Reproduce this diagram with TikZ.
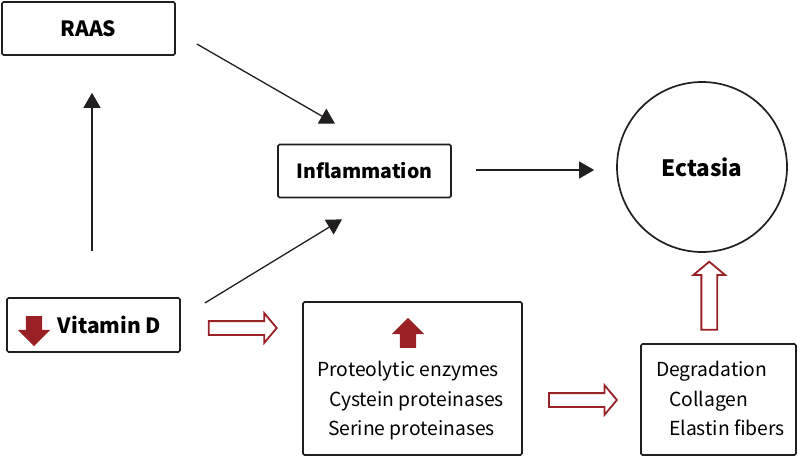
\documentclass[tikz,border=0pt]{standalone}
\usepackage{fontspec}
\setmainfont{Noto Sans CJK KR}
\usepackage{tikz}
\usetikzlibrary{
  arrows.meta,
  positioning,
  shapes.arrows,
  calc
}
\usepackage{xcolor}
\definecolor{darkRed}{rgb}{0.6015625,0.12890625,0.14453125}
\definecolor{boxLine}{rgb}{0.13,0.12,0.12}
\tikzset{
  textbox/.style={
    draw=boxLine,
    line width=1.7pt,
    rounded corners=1.5pt,
    minimum height=53pt,
    minimum width=173pt,
    inner sep=0pt,
    font=\fontsize{19.5}{23}\selectfont\bfseries
  },
  listbox/.style={
    draw=boxLine,
    line width=1.7pt,
    rounded corners=1.5pt,
    inner sep=0pt
  },
  listtext/.style={
    align=left,
    anchor=north west,
    inner sep=0pt,
    font=\fontsize{19.3}{29.5}\selectfont
  },
  hollow/.style={
    single arrow,
    draw=darkRed,
    line width=1.8pt,
    inner sep=6pt,
    single arrow head extend=8pt,
    single arrow tip angle=100,
    minimum height=68pt
  },
  solid arrow/.style={
    single arrow,
    fill=darkRed,
    inner sep=8pt,
    single arrow head extend=8pt,
    minimum height=30pt
  }
}

\begin{document}
\begin{tikzpicture}[
      x=1pt, y=-1pt,
      >={Triangle[length=15pt,width=17pt]},
      link/.style={->, line width=1.3pt, draw=boxLine}
      ]
      \useasboundingbox (0,0) rectangle (799,458);

      % boxes
      \node[textbox, font=\fontsize{21}{25}\selectfont\bfseries] (raas) at (88.5,28.5) {RAAS};
      \node[textbox] (infl) at (364.5,171) {Inflammation};
      \node[textbox, minimum height=54pt, font=\fontsize{21}{25}\selectfont\bfseries]
        (vitd) at (93.5,325) {\hspace{32pt}Vitamin D};
      \node[listbox, minimum width=219pt, minimum height=153pt] (prot) at (412.5,378.5) {};
      \node[listbox, minimum width=155pt, minimum height=111pt] (degr) at (718.5,399.5) {};
      \node[circle, draw=boxLine, line width=1.7pt, minimum size=170pt,
        font=\fontsize{22.5}{26}\selectfont\bfseries] (ect) at (702,167) {Ectasia};

      % texts in the boxes
      \node[solid arrow, shape border rotate=270] (down) at (34,327) {};
      \node[solid arrow, shape border rotate=90] (up) at (408,337) {};
      \node[listtext] (enz) at (317,361) {Proteolytic enzymes\\
        \hspace{12pt}Cystein proteinases\\
        \hspace{11pt}Serine proteinases};
      \node[listtext] (deg) at (656,361) {Degradation\\
        \hspace{13pt}Collagen\\
        \hspace{13pt}Elastin fibers};

      % black connectors
      \draw[link] ([shift={(-1.5,-46)}]vitd.north) -- ([shift={(3.5,37)}]raas.south);
      \draw[link] ([shift={(21,15.5)}]raas.east) -- ([shift={(-29.5,-20)}]infl.north);
      \draw[link] ([shift={(24,-22)}]vitd.east) -- ([shift={(-22.5,21)}]infl.south);
      \draw[link] ([shift={(24,-1)}]infl.east) -- ([shift={(-22,3)}]ect.west);

      % hollow red arrows
      \node[hollow] (a1) at ($(vitd.east)+(59,3)$) {};
      \node[hollow] (a2) at ($(prot.east)!0.5!(degr.west)+(-1.5,11)$) {};
      \node[hollow, shape border rotate=90, inner sep=7pt] (a3)
        at ($(degr.north)!0.5!(ect.south)+(-1,1)$) {};
    \end{tikzpicture}
\end{document}
